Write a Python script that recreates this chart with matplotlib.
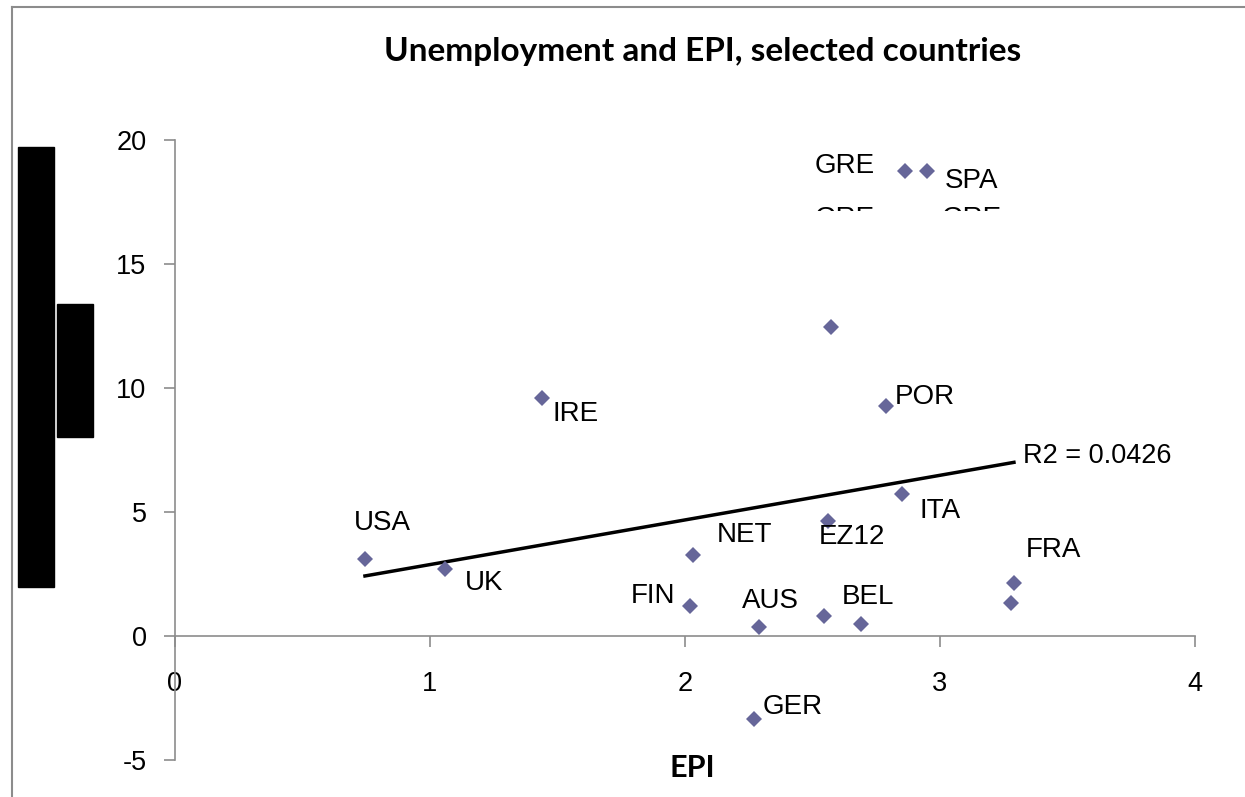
import matplotlib
matplotlib.use("Agg")
import matplotlib.pyplot as plt
from matplotlib.patches import Rectangle
from matplotlib.lines import Line2D
from matplotlib.transforms import Bbox, TransformedBbox
import numpy as np

plt.rcParams["axes.unicode_minus"] = False

# data
countries = ["USA", "UK", "IRE", "NET", "FIN", "AUS", "GER", "EZ12", "", "BEL",
             "", "POR", "ITA", "GRE", "SPA", "FRA", ""]
epi = [0.745, 1.060, 1.44, 2.03, 2.02, 2.29, 2.27, 2.559, 2.545, 2.69,
       2.571, 2.787, 2.850, 2.863, 2.949, 3.29, 3.28]
unemp = [3.09, 2.69, 9.6, 3.27, 1.21, 0.36, -3.35, 4.65, 0.81, 0.50,
         12.47, 9.29, 5.73, 18.75, 18.75, 2.14, 1.33]
# label offsets in pixels (dx, dy)
label_off = [(17, 36), (39, -14), (33, -16), (52, 20), (-37, 10), (11, 26), (39, 12),
             (24, -16), (0, 0), (7, 27), (0, 0), (39, 9), (38, -17), (-60, 5),
             (45, -10), (39, 33), (0, 0)]
trend_slope = 1.80
trend_intercept = 1.08
r2_text = "R2 = 0.0426"

fig = plt.figure(figsize=(12.45, 7.97), dpi=100)
ax = fig.add_axes([175 / 1245, 1 - 760 / 797, 1020 / 1245, 620 / 797])

ax.plot(epi, unemp, linestyle="none", marker="D", markersize=8.5,
        color="#666699", markeredgewidth=0, zorder=3)

xs = np.array([min(epi), max(epi)])
ax.plot(xs, trend_intercept + trend_slope * xs, color="black", lw=2.5, zorder=2)
ax.annotate(r2_text, (xs[1], trend_intercept + trend_slope * xs[1]),
            xytext=(9, 6), textcoords="offset pixels", ha="left", va="center",
            fontsize=19.5, family="Liberation Sans")

for name, x, y, (dx, dy) in zip(countries, epi, unemp, label_off):
    if name:
        ax.annotate(name, (x, y), xytext=(dx, dy), textcoords="offset pixels",
                    ha="center", va="center", fontsize=20, family="Liberation Sans")

# half-hidden labels under GRE / SPA
clip = TransformedBbox(Bbox([[0, 1 - 211 / 797], [1, 1]]), fig.transFigure)
for x0 in [845 / 1245, 972 / 1245]:
    t = fig.text(x0, 1 - 219 / 797, "GRE", ha="center", va="center",
                 fontsize=20, family="Liberation Sans")
    t.set_clip_box(clip)
    t.set_clip_on(True)

ax.set_xlim(0, 4)
ax.set_ylim(-5, 20)
ax.set_xticks([0, 1, 2, 3, 4])
ax.set_yticks([-5, 0, 5, 10, 15, 20])
ax.spines["top"].set_visible(False)
ax.spines["right"].set_visible(False)
ax.spines["bottom"].set_position(("data", 0))
for s in ["left", "bottom"]:
    ax.spines[s].set_color("#8c8c8c")
    ax.spines[s].set_linewidth(1.2)
ax.tick_params(axis="both", direction="out", length=8, width=1.2, color="#8c8c8c",
               labelsize=19.5, labelcolor="black")
ax.tick_params(axis="y", pad=12.5)
ax.tick_params(axis="x", pad=17)
for lab in ax.get_xticklabels() + ax.get_yticklabels():
    lab.set_family("Liberation Sans")

fig.text(703 / 1245, 1 - 51 / 797, "Unemployment and EPI, selected countries",
         ha="center", va="center", fontsize=24, fontweight="bold", family="Lato")
fig.text(692 / 1245, 1 - 768 / 797, "EPI", ha="center", va="center",
         fontsize=22, fontweight="bold", family="Lato")

# outer chart frame (only left and top edges are inside the picture)
fig.lines.append(Line2D([12 / 1245, 12 / 1245], [0, 1 - 7 / 797],
                        transform=fig.transFigure, color="#8c8c8c", lw=1.5))
fig.lines.append(Line2D([12 / 1245, 1], [1 - 7 / 797, 1 - 7 / 797],
                        transform=fig.transFigure, color="#8c8c8c", lw=1.5))
# black boxes on the left
fig.patches.append(Rectangle((18 / 1245, 1 - 587 / 797), 36 / 1245, 440 / 797,
                             transform=fig.transFigure, color="black"))
fig.patches.append(Rectangle((57 / 1245, 1 - 437 / 797), 36 / 1245, 133 / 797,
                             transform=fig.transFigure, color="black"))

fig.savefig("out.png", dpi=100)
